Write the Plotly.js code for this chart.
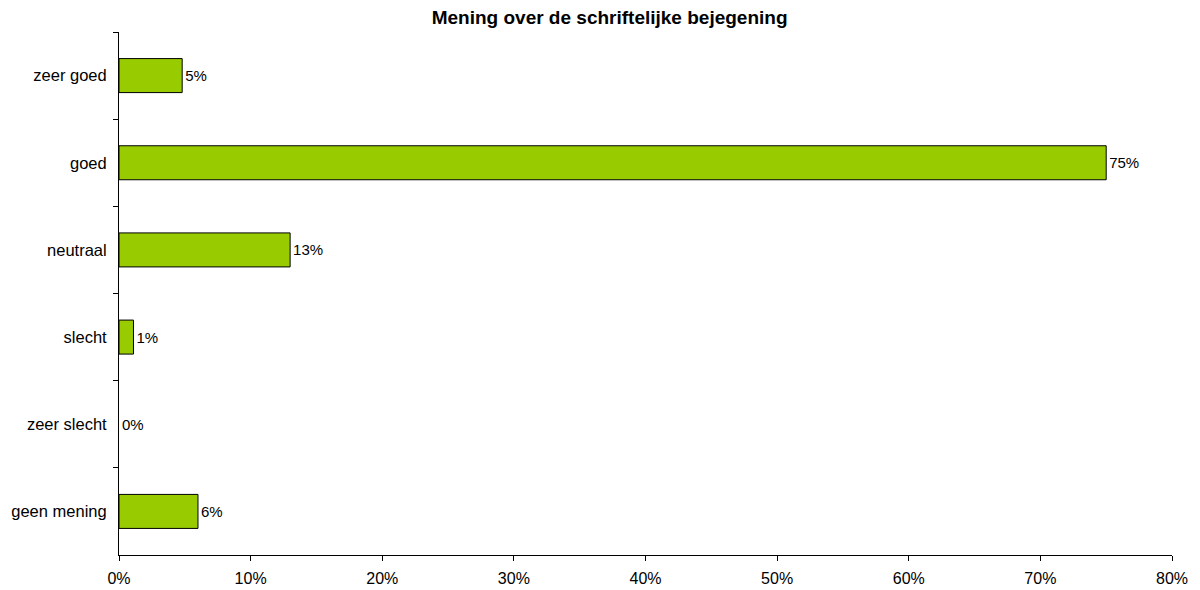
<!DOCTYPE html>
<html>
<head>
<meta charset="utf-8">
<script src="https://cdn.plot.ly/plotly-3.0.1.min.js"></script>
<style>html,body{margin:0;padding:0;background:#fff;}#chart{width:1200px;height:590px;}</style>
</head>
<body>
<div id="chart"></div>
<script>
var categories = ["zeer goed", "goed", "neutraal", "slecht", "zeer slecht", "geen mening"];
var values = [4.8, 75.0, 13.0, 1.1, 0.0, 6.0];
var labels = ["5%", "75%", "13%", "1%", "0%", "6%"];
var xTickSuffix = "%";

var trace = {
  type: "bar",
  orientation: "h",
  y: categories,
  x: values,
  text: labels,
  textposition: "outside",
  cliponaxis: false,
  textfont: {family: "Liberation Sans, Arial, sans-serif", size: 15, color: "#000"},
  marker: {color: "#99CC00", line: {color: "#000", width: values.map(function (v) { return v > 0 ? 1 : 0; })}},
  width: 0.39,
  hoverinfo: "none"
};

var layout = {
  width: 1200, height: 590,
  margin: {l: 119, r: 28, t: 32, b: 35},
  paper_bgcolor: "#fff", plot_bgcolor: "#fff",
  showlegend: false,
  font: {family: "Liberation Sans, Arial, sans-serif", color: "#000"},
  title: {text: "<b>Mening over de schriftelijke bejegening</b>", x: 0.508, xanchor: "center", y: 0.97, yanchor: "middle",
          font: {family: "Liberation Sans, Arial, sans-serif", size: 19, color: "#000"}},
  xaxis: {range: [0, 80], dtick: 10, tick0: 0, ticksuffix: xTickSuffix, showgrid: false, zeroline: false,
          showline: true, linecolor: "#000", linewidth: 1, ticks: "outside", ticklen: 5, tickcolor: "#000",
          tickfont: {size: 16, color: "#000"}, ticklabelstandoff: 4, fixedrange: true},
  yaxis: {type: "category", categoryorder: "array", categoryarray: categories, autorange: "reversed",
          showgrid: false, zeroline: false, showline: true, linecolor: "#000", linewidth: 1,
          ticks: "outside", ticklen: 5, tickcolor: "#000", tickson: "boundaries",
          tickfont: {size: 16.5, color: "#000"}, ticklabelstandoff: 8, fixedrange: true}
};

Plotly.newPlot("chart", [trace], layout, {displayModeBar: false, staticPlot: true});
</script>
</body>
</html>
